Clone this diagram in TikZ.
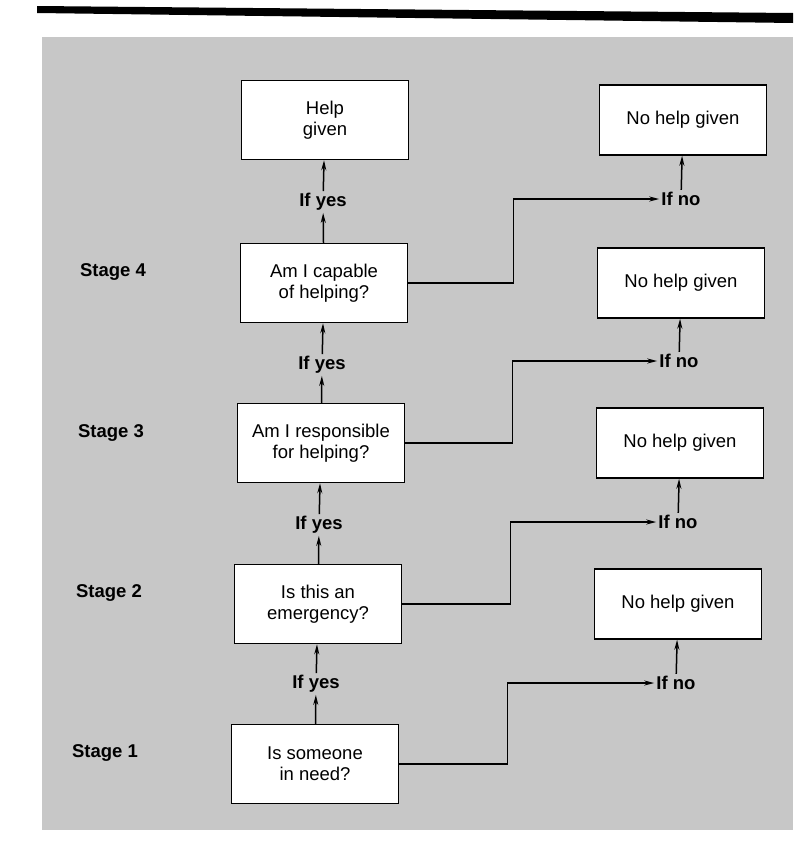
\documentclass[tikz,border=0pt]{standalone}
\usepackage{fontspec}
\setmainfont{Liberation Sans}
\usepackage{tikz}
\usetikzlibrary{arrows.meta}

\begin{document}
\begin{tikzpicture}[x=1pt, y=-1pt, >={Stealth[length=10pt,width=5pt]}, line width=1.5pt,
  box/.style={draw, fill=white, minimum width=167pt, minimum height=79pt,
    align=center, font=\fontsize{18.5}{21}\selectfont},
  nobox/.style={box, minimum height=70pt},
  lab/.style={font=\fontsize{18.5}{20}\selectfont\bfseries, inner sep=1.5pt}]
  \useasboundingbox (0,0) rectangle (793,846);
  % Top rule and shaded ground
  \fill (37,6) -- (793,13) -- (793,23) -- (37,13) -- cycle;
  \fill[black!22] (42,37) rectangle (793,830);
  % Stage labels
  \node[lab] (stage4) at (113,272) {Stage 4};
  \node[lab] (stage3) at (111,433) {Stage 3};
  \node[lab] (stage2) at (109,593) {Stage 2};
  \node[lab] (stage1) at (105,753) {Stage 1};
  % Decision boxes
  \node[box] (help) at (325,120) {Help\\given};
  \node[box] (capable) at (324,283) {Am I capable\\of helping?};
  \node[box] (resp) at (321,443) {Am I responsible\\for helping?};
  \node[box] (emerg) at (318,604) {Is this an\\emergency?};
  \node[box] (need) at (315,764) {Is someone\\in need?};
  % No help boxes
  \node[nobox] (nohelp4) at (683,120) {No help given};
  \node[nobox] (nohelp3) at (681,283) {No help given};
  \node[nobox] (nohelp2) at (680,443) {No help given};
  \node[nobox] (nohelp1) at (678,604) {No help given};
  % Yes / no labels
  \node[lab] (yes4) at (323,202) {If yes};
  \node[lab] (yes3) at (322,365) {If yes};
  \node[lab] (yes2) at (319,525) {If yes};
  \node[lab] (yes1) at (316,684) {If yes};
  \node[lab] (no4) at (681,199) {If no};
  \node[lab] (no3) at (679,361) {If no};
  \node[lab] (no2) at (678,522) {If no};
  \node[lab] (no1) at (676,683) {If no};
  % Yes path
  \draw[->] (need) -- (yes1);
  \draw[->] (yes1) -- (emerg);
  \draw[->] (emerg) -- (yes2);
  \draw[->] (yes2) -- (resp);
  \draw[->] (resp) -- (yes3);
  \draw[->] (yes3) -- (capable);
  \draw[->] (capable) -- (yes4);
  \draw[->] (yes4) -- (help);
  % No paths
  \draw[->] (need.east) -- ++(108,0) |- (no1);
  \draw[->] (emerg.east) -- ++(108,0) |- (no2);
  \draw[->] (resp.east) -- ++(107,0) |- (no3);
  \draw[->] (capable.east) -- ++(105,0) |- (no4);
  \draw[->] (no1) -- (nohelp1);
  \draw[->] (no2) -- (nohelp2);
  \draw[->] (no3) -- (nohelp3);
  \draw[->] (no4) -- (nohelp4);
\end{tikzpicture}
\end{document}
